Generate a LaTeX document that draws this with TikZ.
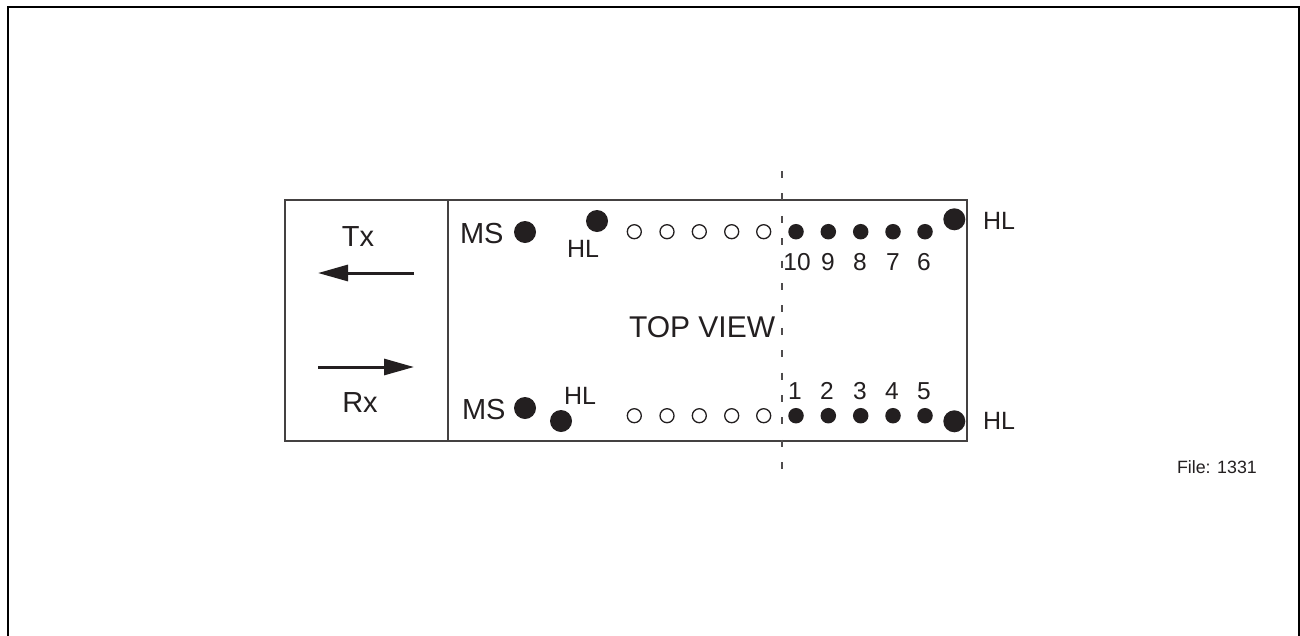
\documentclass[tikz,border=0pt]{standalone}
\usepackage{fontspec}
\setmainfont{Liberation Sans}
\usetikzlibrary{arrows.meta}
\definecolor{ink}{HTML}{231F20}
\tikzset{
  lab/.style={anchor=base west,inner sep=0pt,outer sep=0pt,text=ink},
  labc/.style={anchor=base,inner sep=0pt,outer sep=0pt,text=ink},
  bigtext/.style={font=\fontsize{29}{32}\selectfont},
  viewtext/.style={font=\fontsize{30}{33}\selectfont},
  hltext/.style={font=\fontsize{25}{28}\selectfont},
  numtext/.style={font=\fontsize{24.5}{28}\selectfont},
  smalltext/.style={font=\fontsize{17.8}{20}\selectfont},
  bigdot/.style={circle,fill=ink,draw=none,minimum size=22pt,inner sep=0pt},
  pindot/.style={circle,fill=ink,draw=none,minimum size=15.5pt,inner sep=0pt},
  holedot/.style={circle,fill=white,draw=ink,line width=1.3pt,minimum size=14pt,inner sep=0pt},
  boxline/.style={draw=ink!85,line width=1.7pt},
  flow/.style={draw=ink,line width=3pt,-{Triangle[length=30pt,width=16pt]}},
  axisline/.style={draw=ink!80,line width=1.2pt,dash pattern=on 7pt off 15.4pt},
  frameline/.style={draw=black,line width=2.4pt}
}
\begin{document}
\begin{tikzpicture}[x=1pt,y=-1pt]
\useasboundingbox (0,0) rectangle (1300,635);
\fill[white] (0,0) rectangle (1300,635);
\coordinate (fa) at (8,640);
\coordinate (fb) at (8,7);
\coordinate (fc) at (1298.8,7);
\coordinate (fd) at (1298.8,640);
\draw[frameline] (fa) -- (fb) -- (fc) -- (fd);
\coordinate (bl) at (285,200);
\coordinate (br) at (967,441);
\coordinate (dt) at (448,200);
\coordinate (db) at (448,441);
\draw[boxline] (bl) rectangle (br);
\draw[boxline] (dt) -- (db);
\coordinate (ax1) at (782,171);
\coordinate (ax2) at (782,470);
\draw[axisline] (ax1) -- (ax2);
\coordinate (txa) at (414,273);
\coordinate (txb) at (318,273);
\coordinate (rxa) at (318,367);
\coordinate (rxb) at (414,367);
\draw[flow] (txa) -- (txb);
\draw[flow] (rxa) -- (rxb);
\node[bigdot] (ms1) at (525,232) {};
\node[bigdot] (ms2) at (525,408) {};
\node[bigdot] (hl1) at (597,221) {};
\node[bigdot] (hl2) at (561,421) {};
\node[bigdot] (hl3) at (954.3,219.3) {};
\node[bigdot] (hl4) at (954.3,421.3) {};
\foreach \i/\x in {1/634.3,2/667,3/699.3,4/731.7,5/763.7}{
  \node[holedot] (ot\i) at (\x,231.7) {};
  \node[holedot] (ob\i) at (\x,415.7) {};
}
\foreach \i/\x in {1/796,2/828.3,3/860.7,4/893,5/925}{
  \node[pindot] (pt\i) at (\x,231.7) {};
  \node[pindot] (pb\i) at (\x,415.7) {};
}
\foreach \t/\x in {10/797,9/828,8/860,7/893,6/924}{
  \node[labc,numtext] (nt\t) at (\x,270) {\t};
}
\foreach \t/\x in {1/795,2/827,3/860,4/892,5/924}{
  \node[labc,numtext] (nb\t) at (\x,399) {\t};
}
\node[labc,bigtext] (tx) at (358,246) {Tx};
\node[labc,bigtext] (rx) at (360,412) {Rx};
\node[lab,bigtext] (msa) at (460,243) {MS};
\node[lab,bigtext] (msb) at (462,419) {MS};
\node[lab,hltext] (hla) at (567,257) {HL};
\node[lab,hltext] (hlb) at (564,404) {HL};
\node[lab,hltext] (hlc) at (983,229) {HL};
\node[lab,hltext] (hld) at (983,429) {HL};
\node[lab,viewtext] (tv) at (629,337) {TOP VIEW};
\node[lab,smalltext] (file) at (1177,473) {File: 1331};
\end{tikzpicture}
\end{document}
